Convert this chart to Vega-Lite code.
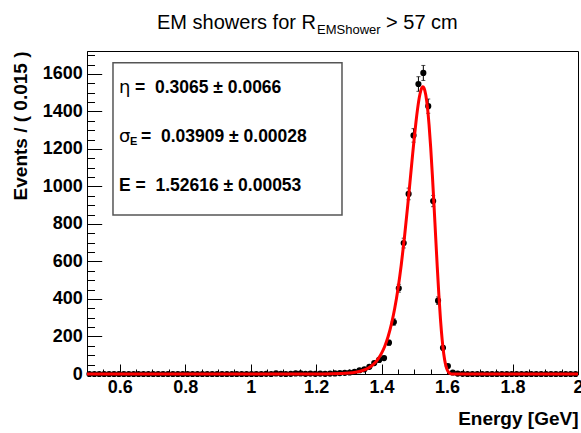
{
  "$schema": "https://vega.github.io/schema/vega-lite/v6.json",
  "width": 491,
  "height": 323,
  "autosize": {"type": "none"},
  "padding": {"left": 87, "top": 51, "right": 3, "bottom": 59},
  "background": "white",
  "config": {
    "font": "Liberation Sans",
    "view": {"stroke": "black", "strokeWidth": 1},
    "axis": {"grid": false, "domainColor": "black", "tickColor": "black", "labelColor": "black", "titleColor": "black"}
  },
  "datasets": {
    "bins": [
      {"x":0.5075,"y":0,"lo":0,"hi":0},{"x":0.5225,"y":0,"lo":0,"hi":0},{"x":0.5375,"y":0,"lo":0,"hi":0},{"x":0.5525,"y":0,"lo":0,"hi":0},{"x":0.5675,"y":0,"lo":0,"hi":0},
      {"x":0.5825,"y":0,"lo":0,"hi":0},{"x":0.5975,"y":0,"lo":0,"hi":0},{"x":0.6125,"y":0,"lo":0,"hi":0},{"x":0.6275,"y":0,"lo":0,"hi":0},{"x":0.6425,"y":0,"lo":0,"hi":0},
      {"x":0.6575,"y":0,"lo":0,"hi":0},{"x":0.6725,"y":0,"lo":0,"hi":0},{"x":0.6875,"y":0,"lo":0,"hi":0},{"x":0.7025,"y":0,"lo":0,"hi":0},{"x":0.7175,"y":0,"lo":0,"hi":0},
      {"x":0.7325,"y":0,"lo":0,"hi":0},{"x":0.7475,"y":0,"lo":0,"hi":0},{"x":0.7625,"y":0,"lo":0,"hi":0},{"x":0.7775,"y":0,"lo":0,"hi":0},{"x":0.7925,"y":0,"lo":0,"hi":0},
      {"x":0.8075,"y":0,"lo":0,"hi":0},{"x":0.8225,"y":0,"lo":0,"hi":0},{"x":0.8375,"y":0,"lo":0,"hi":0},{"x":0.8525,"y":0,"lo":0,"hi":0},{"x":0.8675,"y":0,"lo":0,"hi":0},
      {"x":0.8825,"y":0,"lo":0,"hi":0},{"x":0.8975,"y":0,"lo":0,"hi":0},{"x":0.9125,"y":0,"lo":0,"hi":0},{"x":0.9275,"y":0,"lo":0,"hi":0},{"x":0.9425,"y":0,"lo":0,"hi":0},
      {"x":0.9575,"y":0,"lo":0,"hi":0},{"x":0.9725,"y":0,"lo":0,"hi":0},{"x":0.9875,"y":0,"lo":0,"hi":0},{"x":1.0025,"y":0,"lo":0,"hi":0},{"x":1.0175,"y":0,"lo":0,"hi":0},
      {"x":1.0325,"y":0,"lo":0,"hi":0},{"x":1.0475,"y":1,"lo":0,"hi":2},{"x":1.0625,"y":0,"lo":0,"hi":0},{"x":1.0775,"y":3,"lo":1,"hi":5},{"x":1.0925,"y":1,"lo":0,"hi":2},
      {"x":1.1075,"y":0,"lo":0,"hi":0},{"x":1.1225,"y":1,"lo":0,"hi":2},{"x":1.1375,"y":3,"lo":1,"hi":5},{"x":1.1525,"y":3,"lo":1,"hi":5},{"x":1.1675,"y":1,"lo":0,"hi":2},
      {"x":1.1825,"y":2,"lo":1,"hi":3},{"x":1.1975,"y":1,"lo":0,"hi":2},{"x":1.2125,"y":2,"lo":1,"hi":3},{"x":1.2275,"y":1,"lo":0,"hi":2},{"x":1.2425,"y":2,"lo":1,"hi":3},
      {"x":1.2575,"y":3,"lo":1,"hi":5},{"x":1.2725,"y":5,"lo":3,"hi":7},{"x":1.2875,"y":6,"lo":4,"hi":8},{"x":1.3025,"y":8,"lo":5,"hi":11},{"x":1.3175,"y":12,"lo":9,"hi":15},
      {"x":1.3325,"y":20,"lo":16,"hi":24},{"x":1.3475,"y":25,"lo":20,"hi":30},{"x":1.3625,"y":38,"lo":32,"hi":44},{"x":1.3775,"y":58,"lo":50,"hi":66},{"x":1.3925,"y":75,"lo":66,"hi":84},
      {"x":1.4075,"y":85,"lo":76,"hi":94},{"x":1.4225,"y":167,"lo":154,"hi":180},{"x":1.4375,"y":277,"lo":260,"hi":294},{"x":1.4525,"y":457,"lo":436,"hi":478},{"x":1.4675,"y":698,"lo":672,"hi":724},
      {"x":1.4825,"y":960,"lo":929,"hi":991},{"x":1.4975,"y":1272,"lo":1236,"hi":1308},{"x":1.5125,"y":1546,"lo":1507,"hi":1585},{"x":1.5275,"y":1605,"lo":1565,"hi":1645},{"x":1.5425,"y":1428,"lo":1390,"hi":1466},
      {"x":1.5575,"y":922,"lo":892,"hi":952},{"x":1.5725,"y":391,"lo":371,"hi":411},{"x":1.5875,"y":140,"lo":128,"hi":152},{"x":1.6025,"y":42,"lo":36,"hi":48},{"x":1.6175,"y":8,"lo":5,"hi":11},
      {"x":1.6325,"y":2,"lo":1,"hi":3},{"x":1.6475,"y":1,"lo":0,"hi":2},{"x":1.6625,"y":0,"lo":0,"hi":0},{"x":1.6775,"y":0,"lo":0,"hi":0},{"x":1.6925,"y":0,"lo":0,"hi":0},
      {"x":1.7075,"y":0,"lo":0,"hi":0},{"x":1.7225,"y":0,"lo":0,"hi":0},{"x":1.7375,"y":0,"lo":0,"hi":0},{"x":1.7525,"y":0,"lo":0,"hi":0},{"x":1.7675,"y":0,"lo":0,"hi":0},
      {"x":1.7825,"y":0,"lo":0,"hi":0},{"x":1.7975,"y":0,"lo":0,"hi":0},{"x":1.8125,"y":0,"lo":0,"hi":0},{"x":1.8275,"y":0,"lo":0,"hi":0},{"x":1.8425,"y":0,"lo":0,"hi":0},
      {"x":1.8575,"y":0,"lo":0,"hi":0},{"x":1.8725,"y":0,"lo":0,"hi":0},{"x":1.8875,"y":0,"lo":0,"hi":0},{"x":1.9025,"y":0,"lo":0,"hi":0},{"x":1.9175,"y":0,"lo":0,"hi":0},
      {"x":1.9325,"y":0,"lo":0,"hi":0},{"x":1.9475,"y":0,"lo":0,"hi":0},{"x":1.9625,"y":0,"lo":0,"hi":0},{"x":1.9775,"y":0,"lo":0,"hi":0},{"x":1.9925,"y":0,"lo":0,"hi":0}
    ],
    "curve": [
      {"x":0.5,"y":0},{"x":1.15,"y":0},{"x":1.2,"y":0.2},{"x":1.25,"y":1.0},{"x":1.3,"y":4.8},{"x":1.32,"y":9.0},{"x":1.34,"y":17.1},
      {"x":1.36,"y":32.3},{"x":1.38,"y":60.3},{"x":1.39,"y":82.0},{"x":1.4,"y":111.0},{"x":1.41,"y":149.6},{"x":1.42,"y":200.2},
      {"x":1.43,"y":265.7},{"x":1.44,"y":349.2},{"x":1.45,"y":453.6},{"x":1.46,"y":581.1},{"x":1.47,"y":731.5},{"x":1.48,"y":901.7},
      {"x":1.49,"y":1083.6},{"x":1.495,"y":1174.5},{"x":1.5,"y":1262.1},{"x":1.505,"y":1343.4},{"x":1.51,"y":1414.8},{"x":1.515,"y":1472.4},
      {"x":1.52,"y":1512.2},{"x":1.526,"y":1531},{"x":1.53,"y":1523.1},{"x":1.535,"y":1487.8},{"x":1.54,"y":1423.0},{"x":1.545,"y":1328.7},
      {"x":1.55,"y":1207.3},{"x":1.555,"y":1063.3},{"x":1.56,"y":903.6},{"x":1.565,"y":736.6},{"x":1.57,"y":572.3},{"x":1.575,"y":420.2},
      {"x":1.58,"y":288.6},{"x":1.585,"y":183.2},{"x":1.59,"y":105.6},{"x":1.595,"y":54.2},{"x":1.6,"y":24.1},{"x":1.605,"y":9.0},
      {"x":1.61,"y":2.6},{"x":1.615,"y":0.6},{"x":1.62,"y":0.1},{"x":1.63,"y":0},{"x":2.0,"y":0}
    ],
    "box": [{"x1":0.5794,"x2":1.279,"y1":848,"y2":1659}]
  },
  "resolve": {"axis": {"x": "independent", "y": "independent"}},
  "layer": [
    {
      "data": {"name": "box"},
      "mark": {"type": "rect", "fill": "white", "stroke": "#555555", "strokeWidth": 1.5},
      "encoding": {
        "x": {"field": "x1", "type": "quantitative", "scale": {"domain": [0.5, 2], "nice": false, "zero": false},
          "axis": {"orient": "bottom", "values": [0.55,0.6,0.65,0.7,0.75,0.8,0.85,0.9,0.95,1,1.05,1.1,1.15,1.2,1.25,1.3,1.35,1.4,1.45,1.5,1.55,1.6,1.65,1.7,1.75,1.8,1.85,1.9,1.95],
            "labels": false, "domain": false, "tickSize": -5, "title": null, "tickWidth": 1}},
        "x2": {"field": "x2"},
        "y": {"field": "y1", "type": "quantitative", "scale": {"domain": [0, 1722], "nice": false},
          "axis": {"orient": "left", "values": [50,100,150,250,300,350,450,500,550,650,700,750,850,900,950,1050,1100,1150,1250,1300,1350,1450,1500,1550,1650,1700],
            "labels": false, "domain": false, "tickSize": -7.5, "title": null, "tickWidth": 1}},
        "y2": {"field": "y2"}
      }
    },
    {
      "data": {"name": "bins"},
      "mark": {"type": "errorbar", "color": "black", "thickness": 1, "ticks": {"size": 4, "thickness": 1, "color": "black"}},
      "encoding": {
        "x": {"field": "x", "type": "quantitative", "axis": null},
        "y": {"field": "lo", "type": "quantitative", "axis": null},
        "y2": {"field": "hi"}
      }
    },
    {
      "data": {"name": "bins"},
      "mark": {"type": "circle", "color": "black", "opacity": 1, "size": 38},
      "encoding": {
        "x": {"field": "x", "type": "quantitative",
          "axis": {"orient": "bottom", "values": [0.6,0.8,1,1.2,1.4,1.6,1.8,2], "format": "~g", "tickSize": -10, "tickWidth": 1,
            "labelPadding": 14, "labelFontSize": 18, "labelFontWeight": "bold", "labelFont": "Liberation Sans",
            "title": "Energy [GeV]", "titleFontSize": 19, "titleFontWeight": "bold", "titleFont": "Liberation Sans",
            "titleAnchor": "end", "titleAlign": "right", "titlePadding": 13, "labelOverlap": false, "labelFlush": false}},
        "y": {"field": "y", "type": "quantitative",
          "axis": {"orient": "left", "values": [0,200,400,600,800,1000,1200,1400,1600], "format": "d", "tickSize": -14.7, "tickWidth": 1,
            "labelPadding": 19.5, "labelFontSize": 18, "labelFontWeight": "bold", "labelFont": "Liberation Sans",
            "title": "Events / ( 0.015 )", "titleFontSize": 19, "titleFontWeight": "bold", "titleFont": "Liberation Sans",
            "titleAnchor": "end", "titlePadding": 12, "labelOverlap": false}}
      }
    },
    {
      "data": {"name": "curve"},
      "mark": {"type": "line", "color": "#ff0000", "strokeWidth": 3, "interpolate": "monotone"},
      "encoding": {
        "x": {"field": "x", "type": "quantitative", "axis": null},
        "y": {"field": "y", "type": "quantitative", "axis": null}
      }
    },
    {
      "data": {"values": [{"t": "η", "y": 1525}, {"t": "σ", "y": 1264}]},
      "mark": {"type": "text", "align": "left", "baseline": "middle", "fontSize": 18, "font": "DejaVu Sans", "color": "black"},
      "encoding": {"x": {"datum": 0.5978, "type": "quantitative", "axis": null}, "y": {"field": "y", "type": "quantitative", "axis": null}, "text": {"field": "t"}}
    },
    {
      "data": {"values": [{"t": "E", "y": 1238}]},
      "mark": {"type": "text", "align": "left", "baseline": "middle", "fontSize": 11, "fontWeight": "bold", "dx": 11, "color": "black"},
      "encoding": {"x": {"datum": 0.5978, "type": "quantitative", "axis": null}, "y": {"field": "y", "type": "quantitative", "axis": null}, "text": {"field": "t"}}
    },
    {
      "data": {"values": [{"t": "= \u00a00.3065 ± 0.0066", "y": 1525}]},
      "mark": {"type": "text", "align": "left", "baseline": "middle", "fontSize": 17.5, "fontWeight": "bold", "dx": 16, "color": "black"},
      "encoding": {"x": {"datum": 0.5978, "type": "quantitative", "axis": null}, "y": {"field": "y", "type": "quantitative", "axis": null}, "text": {"field": "t"}}
    },
    {
      "data": {"values": [{"t": "= \u00a00.03909 ± 0.00028", "y": 1264}]},
      "mark": {"type": "text", "align": "left", "baseline": "middle", "fontSize": 17.5, "fontWeight": "bold", "dx": 22, "color": "black"},
      "encoding": {"x": {"datum": 0.5978, "type": "quantitative", "axis": null}, "y": {"field": "y", "type": "quantitative", "axis": null}, "text": {"field": "t"}}
    },
    {
      "data": {"values": [{"t": "E = \u00a01.52616 ± 0.00053", "y": 1003}]},
      "mark": {"type": "text", "align": "left", "baseline": "middle", "fontSize": 17.5, "fontWeight": "bold", "color": "black"},
      "encoding": {"x": {"datum": 0.5978, "type": "quantitative", "axis": null}, "y": {"field": "y", "type": "quantitative", "axis": null}, "text": {"field": "t"}}
    },
    {
      "data": {"values": [{"t": "EM showers for R", "y": 1840}]},
      "mark": {"type": "text", "align": "left", "baseline": "alphabetic", "fontSize": 20, "color": "black"},
      "encoding": {"x": {"datum": 0.7139, "type": "quantitative", "axis": null}, "y": {"field": "y", "type": "quantitative", "axis": null}, "text": {"field": "t"}}
    },
    {
      "data": {"values": [{"t": "EMShower", "y": 1813}]},
      "mark": {"type": "text", "align": "left", "baseline": "alphabetic", "fontSize": 13, "color": "black", "dx": 160},
      "encoding": {"x": {"datum": 0.7139, "type": "quantitative", "axis": null}, "y": {"field": "y", "type": "quantitative", "axis": null}, "text": {"field": "t"}}
    },
    {
      "data": {"values": [{"t": "> 57 cm", "y": 1840}]},
      "mark": {"type": "text", "align": "left", "baseline": "alphabetic", "fontSize": 20, "color": "black", "dx": 229},
      "encoding": {"x": {"datum": 0.7139, "type": "quantitative", "axis": null}, "y": {"field": "y", "type": "quantitative", "axis": null}, "text": {"field": "t"}}
    }
  ]
}
